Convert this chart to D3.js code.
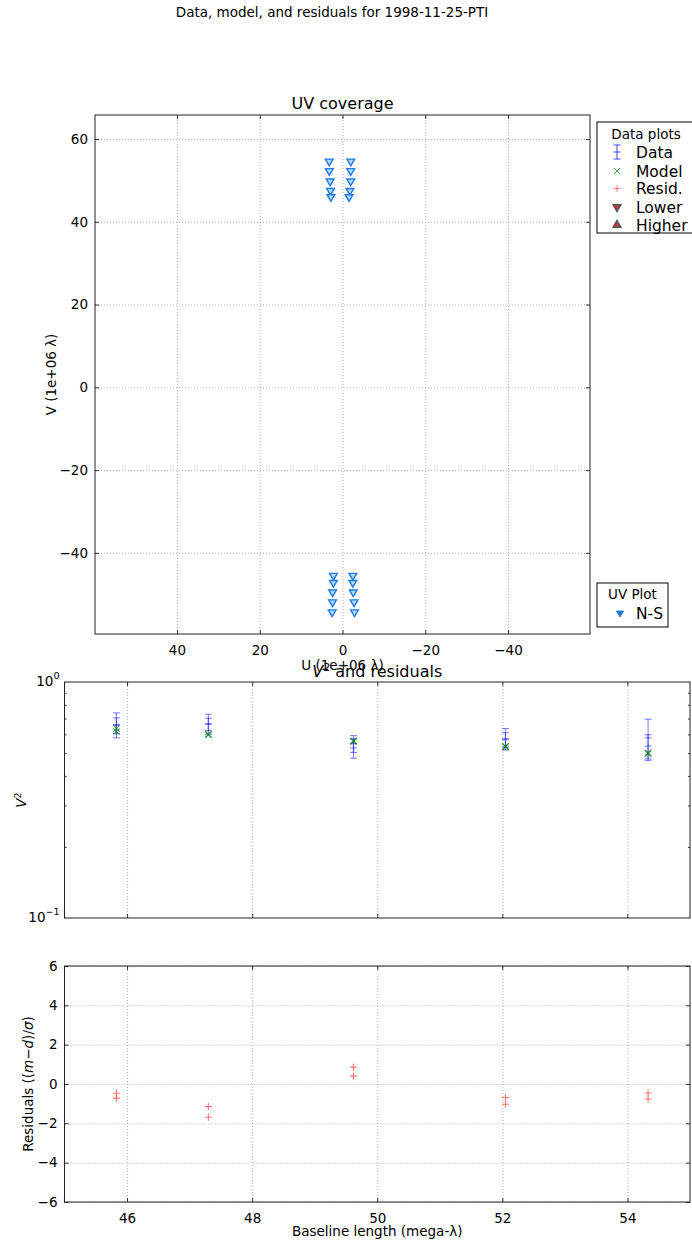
<!DOCTYPE html>
<html><head><meta charset="utf-8">
<script src="https://cdnjs.cloudflare.com/ajax/libs/d3/7.8.5/d3.min.js"></script>
<style>
body{margin:0;background:#fff}
svg{display:block}
text{font-family:"DejaVu Sans",sans-serif;fill:#000}
</style>
</head><body>
<svg id="c" width="692" height="1245"></svg>
<script>
// ---------------- DATA ----------------
const figTitle = "Data, model, and residuals for 1998-11-25-PTI";
const uvTitle = "UV coverage";
const uvXTicks = [40, 20, 0, -20, -40];
const uvYTicks = [60, 40, 20, 0, -20, -40];
// UV points (1e+06 lambda), N-S baseline
const uvU = [3.2, 3.2, 3.0, 2.9, 2.8, -2.0, -2.0, -2.0, -1.8, -1.6,
             2.2, 2.2, 2.4, 2.4, 2.5, -2.5, -2.5, -2.6, -2.8, -2.9];
const uvV = [54.6, 52.3, 49.8, 47.5, 46.0, 54.6, 52.3, 49.8, 47.5, 46.0,
             -45.5, -47.2, -49.5, -51.9, -54.3, -45.5, -47.2, -49.5, -51.9, -54.3];
// Visibility data
const baseline = [45.83, 45.83, 47.30, 47.30, 49.62, 49.62, 52.05, 52.05, 54.33, 54.33];
const v2     = [0.660, 0.655, 0.665, 0.662, 0.525, 0.548, 0.575, 0.570, 0.580, 0.535];
const v2err  = [0.080, 0.050, 0.065, 0.040, 0.050, 0.045, 0.060, 0.040, 0.115, 0.063];
const model  = [0.636, 0.617, 0.600, 0.598, 0.562, 0.560, 0.534, 0.531, 0.501, 0.497];
const resid  = [-0.47, -0.72, -1.15, -1.69, 0.86, 0.40, -0.69, -1.03, -0.46, -0.76];
const blTicks = [46, 48, 50, 52, 54];
const v2MajorTicks = [1, 0.1];
const v2MinorTicks = [0.2, 0.3, 0.4, 0.5, 0.6, 0.7, 0.8, 0.9];
const residTicks = [6, 4, 2, 0, -2, -4, -6];
const legendItems = ["Data", "Model", "Resid.", "Lower", "Higher"];
const uvLegendItems = ["N-S"];

// ---------------- DRAW ----------------
const svg = d3.select("#c");
svg.append("rect").attr("width", 692).attr("height", 1245).attr("fill", "#fff");

const FS = 13.5;
const gridStyle = g => g.selectAll("line").attr("stroke", "#999").attr("stroke-width", 0.8).attr("stroke-dasharray", "1,2");

function styleAxis(g) {
  g.select(".domain").remove();
  g.selectAll("line").attr("stroke", "#000").attr("stroke-width", 0.8);
  g.selectAll("text").attr("font-size", FS).attr("font-family", '"DejaVu Sans",sans-serif').attr("fill", "#000");
  g.attr("font-size", null).attr("font-family", null);
}
function frame(L, T, R, B) {
  svg.append("rect").attr("x", L).attr("y", T).attr("width", R - L).attr("height", B - T)
    .attr("fill", "none").attr("stroke", "#222").attr("stroke-width", 1);
}

// main title
svg.append("text").attr("x", 332).attr("y", 17).attr("text-anchor", "middle").attr("font-size", 13.5).text(figTitle);

// ===== UV panel =====
const uvL = 95, uvR = 590, uvT = 115, uvB = 634;
const ux = d3.scaleLinear().domain([59.8, -59.8]).range([uvL, uvR]);
const uy = d3.scaleLinear().domain([-59.6, 65.8]).range([uvB, uvT]);

svg.append("g").attr("transform", `translate(0,${uvB})`)
  .call(d3.axisBottom(ux).tickValues(uvXTicks).tickSize(-(uvB - uvT)).tickFormat(""))
  .call(g => { g.select(".domain").remove(); gridStyle(g); });
svg.append("g").attr("transform", `translate(${uvL},0)`)
  .call(d3.axisLeft(uy).tickValues(uvYTicks).tickSize(-(uvR - uvL)).tickFormat(""))
  .call(g => { g.select(".domain").remove(); gridStyle(g); });

const triDown = d3.symbol().type(d3.symbolTriangle).size(26);
svg.append("g").selectAll("path").data(uvU.map((u, i) => [u, uvV[i]])).join("path")
  .attr("d", triDown)
  .attr("transform", d => `translate(${ux(d[0])},${uy(d[1])}) rotate(180)`)
  .attr("fill", "#b5d8fa").attr("stroke", "#1e7be6").attr("stroke-width", 1.4);

svg.append("g").attr("transform", `translate(0,${uvB})`)
  .call(d3.axisBottom(ux).tickValues(uvXTicks).tickSize(-4).tickPadding(11)).call(styleAxis);
svg.append("g").attr("transform", `translate(0,${uvT})`)
  .call(d3.axisTop(ux).tickValues(uvXTicks).tickSize(-4).tickFormat("")).call(styleAxis);
svg.append("g").attr("transform", `translate(${uvL},0)`)
  .call(d3.axisLeft(uy).tickValues(uvYTicks).tickSize(-4).tickPadding(7)).call(styleAxis);
svg.append("g").attr("transform", `translate(${uvR},0)`)
  .call(d3.axisRight(uy).tickValues(uvYTicks).tickSize(-4).tickFormat("")).call(styleAxis);
frame(uvL, uvT, uvR, uvB);

svg.append("text").attr("x", (uvL + uvR) / 2).attr("y", 109).attr("text-anchor", "middle").attr("font-size", 16).text(uvTitle);
svg.append("text").attr("x", (uvL + uvR) / 2).attr("y", 670).attr("text-anchor", "middle").attr("font-size", FS).text("U (1e+06 λ)");
svg.append("text").attr("transform", `translate(56,${(uvT + uvB) / 2}) rotate(-90)`).attr("text-anchor", "middle").attr("font-size", FS).text("V (1e+06 λ)");

// Legend: Data plots
{
  const lx = 597, ly = 122, lw = 96, lh = 111;
  svg.append("rect").attr("x", lx).attr("y", ly).attr("width", lw).attr("height", lh).attr("fill", "#fff").attr("stroke", "#000").attr("stroke-width", 1);
  svg.append("text").attr("x", 646).attr("y", 139).attr("text-anchor", "middle").attr("font-size", 13.5).text("Data plots");
  const ys = [152, 171, 188.5, 207, 225];
  const mx = 617;
  legendItems.forEach((t, i) => {
    svg.append("text").attr("x", 636).attr("y", ys[i] + 5.5).attr("font-size", 15.5).text(t);
  });
  // Data icon
  const g = svg.append("g").attr("stroke", "blue").attr("stroke-opacity", 0.6).attr("stroke-width", 1.2);
  g.append("line").attr("x1", mx).attr("x2", mx).attr("y1", ys[0] - 7).attr("y2", ys[0] + 7);
  [-7, 0, 7].forEach(o => g.append("line").attr("x1", mx - 3.5).attr("x2", mx + 3.5).attr("y1", ys[0] + o).attr("y2", ys[0] + o));
  // Model icon
  svg.append("path").attr("d", `M${mx-3},${ys[1]-3}L${mx+3},${ys[1]+3}M${mx-3},${ys[1]+3}L${mx+3},${ys[1]-3}`).attr("stroke", "green").attr("stroke-opacity", 0.7).attr("stroke-width", 1);
  // Resid icon
  svg.append("path").attr("d", `M${mx-3.5},${ys[2]}L${mx+3.5},${ys[2]}M${mx},${ys[2]-3.5}L${mx},${ys[2]+3.5}`).attr("stroke", "red").attr("stroke-opacity", 0.5).attr("stroke-width", 1);
  // Lower / Higher
  const tri = d3.symbol().type(d3.symbolTriangle).size(24);
  svg.append("path").attr("d", tri).attr("transform", `translate(${mx},${ys[3]}) rotate(180)`).attr("fill", "#f03030").attr("stroke", "#555").attr("stroke-width", 1.6);
  svg.append("path").attr("d", tri).attr("transform", `translate(${mx},${ys[4]})`).attr("fill", "#f03030").attr("stroke", "#555").attr("stroke-width", 1.6);
}
// Legend: UV Plot
{
  svg.append("rect").attr("x", 597).attr("y", 583).attr("width", 71).attr("height", 44).attr("fill", "#fff").attr("stroke", "#000").attr("stroke-width", 1);
  svg.append("text").attr("x", 632.5).attr("y", 599).attr("text-anchor", "middle").attr("font-size", 13.5).text("UV Plot");
  svg.append("text").attr("x", 636).attr("y", 618.5).attr("font-size", 15.5).text(uvLegendItems[0]);
  svg.append("path").attr("d", d3.symbol().type(d3.symbolTriangle).size(22)).attr("transform", `translate(620,613) rotate(180)`).attr("fill", "#1e78e0").attr("stroke", "#1e78e0").attr("stroke-width", 0.8);
}

// ===== V^2 panel =====
const vL = 64.5, vR = 690, vT = 682, vB = 918;
const bx = d3.scaleLinear().domain([45, 55]).range([vL, vR]);
const vy = d3.scaleLog().domain([0.1, 1]).range([vB, vT]);

svg.append("g").attr("transform", `translate(0,${vB})`)
  .call(d3.axisBottom(bx).tickValues(blTicks).tickSize(-(vB - vT)).tickFormat(""))
  .call(g => { g.select(".domain").remove(); gridStyle(g); });

// error bars
const eb = svg.append("g").attr("stroke", "blue").attr("stroke-opacity", 0.45).attr("stroke-width", 1.2);
baseline.forEach((b, i) => {
  const x = bx(b);
  eb.append("line").attr("x1", x).attr("x2", x).attr("y1", vy(v2[i] + v2err[i])).attr("y2", vy(v2[i] - v2err[i]));
  [v2[i] + v2err[i], v2[i], v2[i] - v2err[i]].forEach(v =>
    eb.append("line").attr("x1", x - 3.5).attr("x2", x + 3.5).attr("y1", vy(v)).attr("y2", vy(v)));
});
// model x
svg.append("g").selectAll("path").data(baseline.map((b, i) => [b, model[i]])).join("path")
  .attr("d", d => { const x = bx(d[0]), y = vy(d[1]); return `M${x-3.2},${y-3.2}L${x+3.2},${y+3.2}M${x-3.2},${y+3.2}L${x+3.2},${y-3.2}`; })
  .attr("stroke", "green").attr("stroke-opacity", 0.7).attr("stroke-width", 1.1).attr("fill", "none");

svg.append("g").attr("transform", `translate(0,${vB})`)
  .call(d3.axisBottom(bx).tickValues(blTicks).tickSize(-4).tickFormat("")).call(styleAxis);
svg.append("g").attr("transform", `translate(0,${vT})`)
  .call(d3.axisTop(bx).tickValues(blTicks).tickSize(-4).tickFormat("")).call(styleAxis);
svg.append("g").attr("transform", `translate(${vL},0)`)
  .call(d3.axisLeft(vy).tickValues(v2MinorTicks).tickSize(-2).tickFormat("")).call(styleAxis);
svg.append("g").attr("transform", `translate(${vR},0)`)
  .call(d3.axisRight(vy).tickValues(v2MinorTicks).tickSize(-2).tickFormat("")).call(styleAxis);
frame(vL, vT, vR, vB);

// log tick labels
v2MajorTicks.forEach(t => {
  const e = Math.round(Math.log10(t));
  const tx = svg.append("text").attr("x", vL - 5).attr("y", vy(t) + 4).attr("text-anchor", "end").attr("font-size", FS);
  tx.append("tspan").text("10");
  tx.append("tspan").attr("dy", -7).attr("font-size", 9.5).text(e < 0 ? "−" + Math.abs(e) : String(e));
});
svg.append("text").attr("x", (vL + vR) / 2).attr("y", 677).attr("text-anchor", "middle").attr("font-size", 16)
  .call(t => { t.append("tspan").attr("font-style", "italic").text("V"); t.append("tspan").attr("dy", -6).attr("font-size", 11).text("2"); t.append("tspan").attr("dy", 6).text(" and residuals"); });
svg.append("text").attr("transform", `translate(26,${(vT + vB) / 2}) rotate(-90)`).attr("text-anchor", "middle").attr("font-size", FS)
  .call(t => { t.append("tspan").attr("font-style", "italic").text("V"); t.append("tspan").attr("dy", -5).attr("font-size", 9.5).text("2"); });

// ===== Residual panel =====
const rL = 64.5, rR = 690, rT = 966, rB = 1202;
const ry = d3.scaleLinear().domain([-6, 6]).range([rB, rT]);

svg.append("g").attr("transform", `translate(0,${rB})`)
  .call(d3.axisBottom(bx).tickValues(blTicks).tickSize(-(rB - rT)).tickFormat(""))
  .call(g => { g.select(".domain").remove(); gridStyle(g); });
svg.append("g").attr("transform", `translate(${rL},0)`)
  .call(d3.axisLeft(ry).tickValues(residTicks).tickSize(-(rR - rL)).tickFormat(""))
  .call(g => { g.select(".domain").remove(); gridStyle(g); });

svg.append("g").selectAll("path").data(baseline.map((b, i) => [b, resid[i]])).join("path")
  .attr("d", d => { const x = bx(d[0]), y = ry(d[1]); return `M${x-3.5},${y}L${x+3.5},${y}M${x},${y-3.5}L${x},${y+3.5}`; })
  .attr("stroke", "red").attr("stroke-opacity", 0.55).attr("stroke-width", 1.1);

svg.append("g").attr("transform", `translate(0,${rB})`)
  .call(d3.axisBottom(bx).tickValues(blTicks).tickSize(-4).tickPadding(11)).call(styleAxis);
svg.append("g").attr("transform", `translate(0,${rT})`)
  .call(d3.axisTop(bx).tickValues(blTicks).tickSize(-4).tickFormat("")).call(styleAxis);
svg.append("g").attr("transform", `translate(${rL},0)`)
  .call(d3.axisLeft(ry).tickValues(residTicks).tickSize(-4).tickPadding(7)).call(styleAxis);
svg.append("g").attr("transform", `translate(${rR},0)`)
  .call(d3.axisRight(ry).tickValues(residTicks).tickSize(-4).tickFormat("")).call(styleAxis);
frame(rL, rT, rR, rB);

svg.append("text").attr("x", (rL + rR) / 2).attr("y", 1236).attr("text-anchor", "middle").attr("font-size", FS).text("Baseline length (mega-λ)");
svg.append("text").attr("transform", `translate(33,${(rT + rB) / 2}) rotate(-90)`).attr("text-anchor", "middle").attr("font-size", FS)
  .call(t => {
    t.append("tspan").text("Residuals (");
    t.append("tspan").text("(");
    t.append("tspan").attr("font-style", "italic").text("m");
    t.append("tspan").text("−");
    t.append("tspan").attr("font-style", "italic").text("d");
    t.append("tspan").text(")/");
    t.append("tspan").attr("font-style", "italic").text("σ");
    t.append("tspan").text(")");
  });
</script>
</body></html>
